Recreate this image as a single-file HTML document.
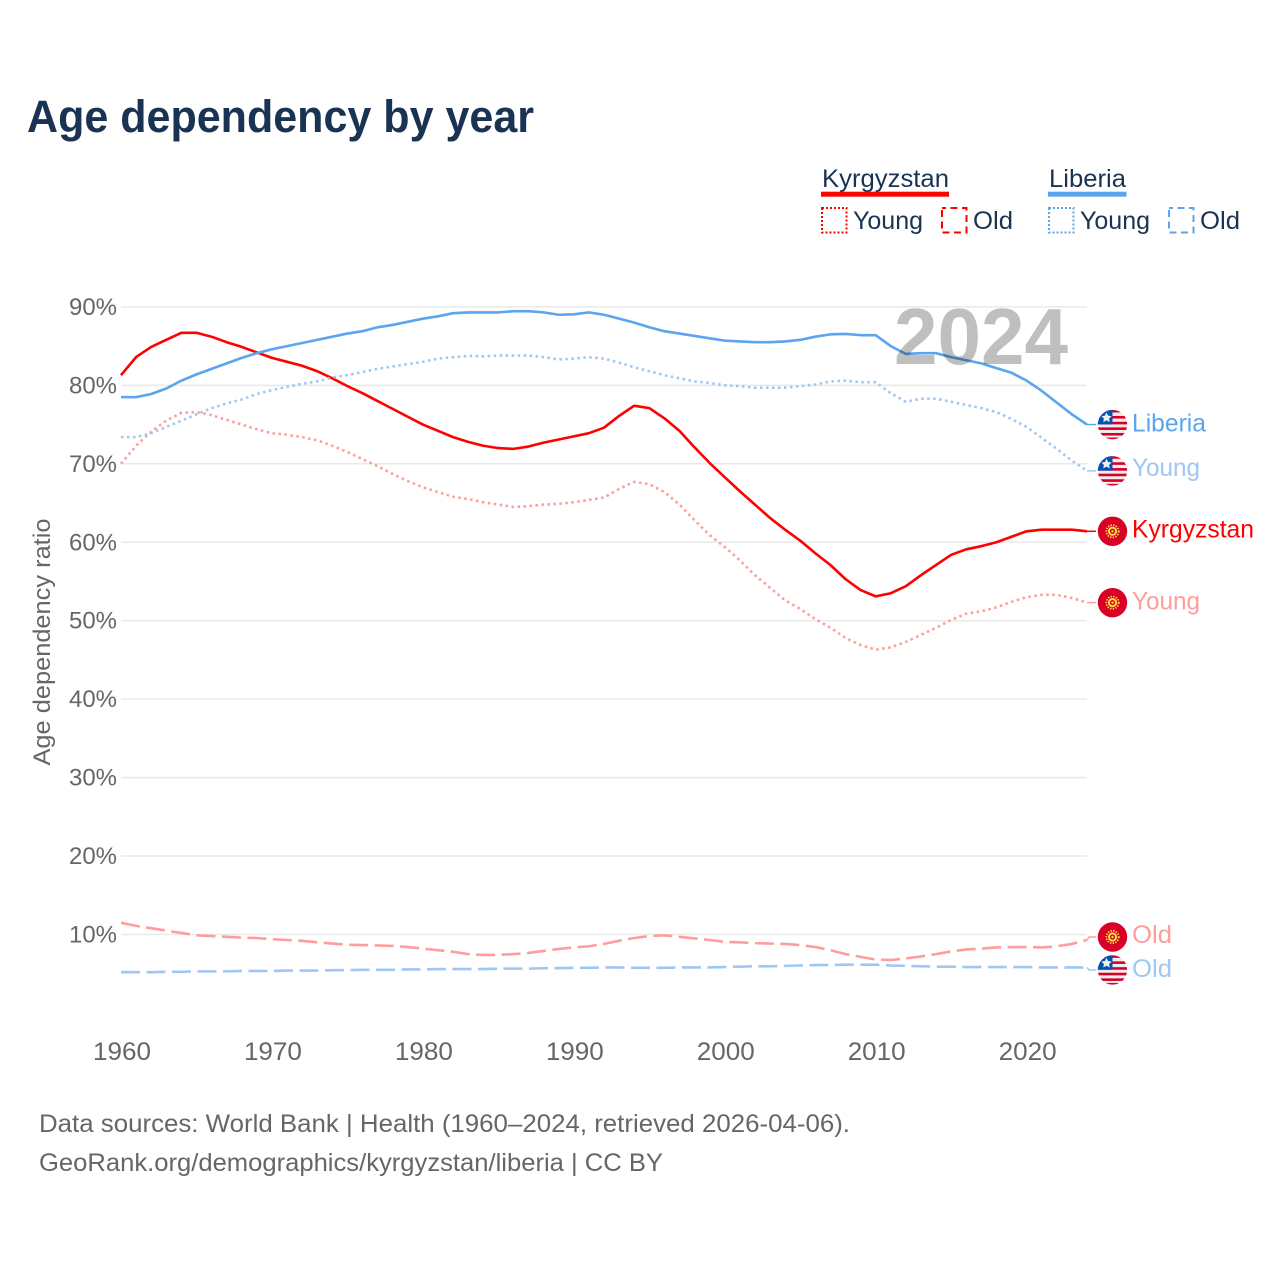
<!DOCTYPE html>
<html lang="en">
<head>
<meta charset="utf-8">
<title>Age dependency by year</title>
<style>
html,body{margin:0;padding:0;background:#fff}
svg{display:block}
text{font-family:"Liberation Sans",sans-serif}
</style>
</head>
<body>
<svg id="chart" xmlns="http://www.w3.org/2000/svg" width="1280" height="1280" viewBox="0 0 1280 1280">
  <defs>
    <clipPath id="flag-clip"><circle cx="0" cy="0" r="14.7"/></clipPath>
    <symbol id="flag-liberia" overflow="visible" viewBox="-15 -15 30 30" width="30" height="30">
      <g clip-path="url(#flag-clip)">
        <rect x="-15" y="-15" width="30" height="30" fill="#eeeeee"/>
        <rect x="-15" y="-14.7" width="30" height="2.6" fill="#d80027"/>
        <rect x="-15" y="-8.6" width="30" height="2.6" fill="#d80027"/>
        <rect x="-15" y="-2.8" width="30" height="2.6" fill="#d80027"/>
        <rect x="-15" y="2.8" width="30" height="2.6" fill="#d80027"/>
        <rect x="-15" y="8.4" width="30" height="2.6" fill="#d80027"/>
        <rect x="-15" y="13" width="30" height="2" fill="#d80027"/>
        <rect x="-15" y="-15" width="15" height="14.8" fill="#0052b4"/>
        <polygon points="-6,-12.2 -4.4,-8.9 -0.9,-8.4 -3.4,-6 -2.8,-2.5 -6,-4.2 -9.2,-2.5 -8.6,-6 -11.1,-8.4 -7.6,-8.9" fill="#eeeeee"/>
      </g>
    </symbol>
    <symbol id="flag-kyrgyzstan" overflow="visible" viewBox="-15 -15 30 30" width="30" height="30">
      <circle cx="0" cy="0" r="14.7" fill="#d80027"/>
      <circle cx="0" cy="0" r="4.6" fill="#ffda44"/>
      <circle cx="0" cy="0" r="2.6" fill="#d80027"/>
      <circle cx="0" cy="0" r="1.2" fill="#ffda44"/>
      <circle cx="0" cy="0" r="6.2" fill="none" stroke="#ffda44" stroke-width="1.8" stroke-dasharray="1.4 1.3"/>
    </symbol>
  </defs>

  <text x="27" y="132" font-size="45" font-weight="700" fill="#1a3353" textLength="507" lengthAdjust="spacingAndGlyphs">Age dependency by year</text>

  <g font-size="25" fill="#1a3353">
    <text x="822" y="187" textLength="127" lengthAdjust="spacingAndGlyphs">Kyrgyzstan</text>
    <rect x="821" y="191.7" width="128" height="5" fill="#ff0000"/>
    <rect x="822" y="208" width="24.5" height="24.5" fill="none" stroke="#ff0000" stroke-width="2" stroke-dasharray="2 2"/>
    <text x="853" y="229" textLength="70" lengthAdjust="spacingAndGlyphs">Young</text>
    <rect x="942" y="208" width="24.5" height="24.5" fill="none" stroke="#ff0000" stroke-width="2" stroke-dasharray="7 4.5" stroke-dashoffset="3"/>
    <text x="973" y="229" textLength="40" lengthAdjust="spacingAndGlyphs">Old</text>
    <text x="1049" y="187" textLength="77" lengthAdjust="spacingAndGlyphs">Liberia</text>
    <rect x="1048" y="191.7" width="78.5" height="5" fill="#5ba4ee"/>
    <rect x="1049" y="208" width="24.5" height="24.5" fill="none" stroke="#5ba4ee" stroke-width="2" stroke-dasharray="2 2"/>
    <text x="1080" y="229" textLength="70" lengthAdjust="spacingAndGlyphs">Young</text>
    <rect x="1169" y="208" width="24.5" height="24.5" fill="none" stroke="#5ba4ee" stroke-width="2" stroke-dasharray="7 4.5" stroke-dashoffset="3"/>
    <text x="1200" y="229" textLength="40" lengthAdjust="spacingAndGlyphs">Old</text>
  </g>

  <g id="grid"></g>
  <g id="y-ticks"></g>
  <g id="x-ticks"></g>
  <text transform="translate(50,642) rotate(-90)" text-anchor="middle" font-size="24.5" fill="#666666" textLength="247" lengthAdjust="spacingAndGlyphs">Age dependency ratio</text>

  <g id="series"></g>
  <g id="end-labels"></g>

  <text x="894" y="364" font-size="80" font-weight="700" fill="#000000" fill-opacity="0.25" textLength="174" lengthAdjust="spacingAndGlyphs">2024</text>

  <g font-size="25" fill="#666666">
    <text x="39" y="1132" textLength="811" lengthAdjust="spacingAndGlyphs">Data sources: World Bank | Health (1960–2024, retrieved 2026-04-06).</text>
    <text x="39" y="1171" textLength="624" lengthAdjust="spacingAndGlyphs">GeoRank.org/demographics/kyrgyzstan/liberia | CC BY</text>
  </g>
</svg>
<script>
const firstYear = 1960;
const lastYear = 2024;
const yTickValues = [10, 20, 30, 40, 50, 60, 70, 80, 90];
const xTickValues = [1960, 1970, 1980, 1990, 2000, 2010, 2020];

const kyrgyzstanTotal = [81.3,83.6,84.9,85.8,86.7,86.7,86.2,85.5,84.9,84.2,83.5,83.0,82.5,81.8,80.9,79.9,79.0,78.0,77.0,76.0,75.0,74.2,73.4,72.8,72.3,72.0,71.9,72.2,72.7,73.1,73.5,73.9,74.6,76.1,77.4,77.1,75.8,74.2,72.1,70.1,68.3,66.5,64.8,63.1,61.6,60.2,58.6,57.1,55.3,53.9,53.1,53.5,54.4,55.8,57.1,58.4,59.1,59.5,60.0,60.7,61.4,61.6,61.6,61.6,61.4];
const kyrgyzstanYoung = [70.0,72.3,74.1,75.5,76.5,76.6,76.2,75.6,75.0,74.4,73.9,73.7,73.4,73.0,72.3,71.5,70.6,69.7,68.7,67.8,67.0,66.4,65.8,65.5,65.1,64.8,64.5,64.6,64.8,64.9,65.1,65.4,65.7,66.8,67.7,67.4,66.4,64.8,62.8,60.9,59.4,57.7,55.8,54.2,52.6,51.5,50.2,49.1,47.8,46.9,46.3,46.6,47.3,48.2,49.1,50.1,50.9,51.2,51.7,52.4,53.0,53.3,53.3,52.9,52.3];
const kyrgyzstanOld = [11.5,11.1,10.8,10.5,10.2,9.9,9.8,9.7,9.6,9.55,9.4,9.3,9.2,9.0,8.85,8.7,8.65,8.6,8.55,8.4,8.2,8.0,7.8,7.5,7.4,7.4,7.5,7.65,7.9,8.15,8.35,8.5,8.8,9.2,9.55,9.8,9.9,9.7,9.5,9.3,9.05,9.0,8.9,8.85,8.8,8.65,8.4,8.0,7.5,7.15,6.8,6.75,6.95,7.2,7.5,7.85,8.1,8.2,8.35,8.4,8.4,8.35,8.5,8.8,9.3];
const liberiaTotal = [78.5,78.5,78.9,79.6,80.6,81.4,82.1,82.8,83.5,84.1,84.6,85.0,85.4,85.8,86.2,86.6,86.9,87.4,87.7,88.1,88.5,88.8,89.2,89.3,89.3,89.3,89.45,89.45,89.3,89.0,89.05,89.3,89.0,88.5,88.0,87.4,86.9,86.6,86.3,86.0,85.7,85.6,85.5,85.5,85.6,85.8,86.2,86.5,86.55,86.4,86.4,85.0,84.0,84.1,84.1,83.6,83.2,82.8,82.2,81.6,80.6,79.3,77.8,76.3,75.0];
const liberiaYoung = [73.4,73.4,73.9,74.7,75.5,76.3,77.1,77.7,78.2,78.9,79.4,79.8,80.2,80.5,81.0,81.3,81.7,82.1,82.4,82.7,83.0,83.4,83.6,83.75,83.7,83.8,83.8,83.8,83.6,83.3,83.4,83.6,83.4,82.9,82.3,81.8,81.3,80.9,80.5,80.3,80.0,79.9,79.7,79.7,79.7,79.9,80.1,80.5,80.6,80.4,80.4,79.0,77.9,78.3,78.3,77.9,77.5,77.1,76.6,75.7,74.7,73.3,71.9,70.4,69.1];
const liberiaOld = [5.2,5.2,5.2,5.25,5.25,5.3,5.3,5.3,5.35,5.35,5.35,5.4,5.4,5.4,5.45,5.45,5.5,5.5,5.5,5.55,5.55,5.6,5.6,5.6,5.6,5.65,5.65,5.65,5.7,5.7,5.75,5.75,5.8,5.8,5.75,5.75,5.75,5.8,5.8,5.8,5.85,5.9,5.95,5.95,6.0,6.05,6.1,6.1,6.15,6.15,6.15,6.05,6.0,5.95,5.9,5.9,5.85,5.85,5.85,5.85,5.85,5.8,5.8,5.8,5.8];

const NS = 'http://www.w3.org/2000/svg';
const plotLeft = 121;
const plotRight = 1087;
const y10 = 934.5;
const pxPerUnit = 7.845;
function xScale(year) { return plotLeft + (year - firstYear) * (plotRight - plotLeft) / (lastYear - firstYear); }
function yScale(value) { return y10 - (value - 10) * pxPerUnit; }
function make(tag, attrs, parent) {
  const el = document.createElementNS(NS, tag);
  for (const k in attrs) el.setAttribute(k, attrs[k]);
  parent.appendChild(el);
  return el;
}

const gridGroup = document.getElementById('grid');
const yTickGroup = document.getElementById('y-ticks');
yTickValues.forEach(function (v) {
  const line = make('line', { x1: plotLeft, x2: plotRight, y1: yScale(v), y2: yScale(v), stroke: '#e9e9e9', 'stroke-width': 1.5 }, gridGroup);
  
  
  const t = make('text', { x: 117, y: yScale(v) + 8, 'text-anchor': 'end', 'font-size': 24.5, fill: '#666666', textLength: 48, lengthAdjust: 'spacingAndGlyphs' }, yTickGroup);
  t.textContent = v + '%';
  
  
});

const xTickGroup = document.getElementById('x-ticks');
xTickValues.forEach(function (yr) {
  const t = make('text', { x: xScale(yr) + 1, y: 1060, 'text-anchor': 'middle', 'font-size': 25, fill: '#666666', textLength: 58, lengthAdjust: 'spacingAndGlyphs' }, xTickGroup);
  t.textContent = yr;
  
  
});

const DOT = '2.5 3.5';
const DASH = '19 6.5';
const RED = '#ff0000';
const RED_LIGHT = '#ff9d9d';
const BLUE = '#5ba4ee';
const BLUE_LIGHT = '#9fc7f3';

const seriesList = [
  { id: 'kyrgyzstan-old', values: kyrgyzstanOld, color: RED_LIGHT, dash: DASH, label: 'Old', flag: 'flag-kyrgyzstan', dy: -3, textDy: 6, len: 40 },
  { id: 'kyrgyzstan-young', values: kyrgyzstanYoung, color: RED_LIGHT, dash: DOT, label: 'Young', flag: 'flag-kyrgyzstan', dy: 0, textDy: 7, len: 68 },
  { id: 'kyrgyzstan-total', values: kyrgyzstanTotal, color: RED, dash: null, label: 'Kyrgyzstan', flag: 'flag-kyrgyzstan', dy: 0, textDy: 6, len: 122 },
  { id: 'liberia-old', values: liberiaOld, color: BLUE_LIGHT, dash: DASH, label: 'Old', flag: 'flag-liberia', dy: 2.5, textDy: 7, len: 40 },
  { id: 'liberia-young', values: liberiaYoung, color: BLUE_LIGHT, dash: DOT, label: 'Young', flag: 'flag-liberia', dy: 0, textDy: 5, len: 68 },
  { id: 'liberia-total', values: liberiaTotal, color: BLUE, dash: null, label: 'Liberia', flag: 'flag-liberia', dy: 0, textDy: 7, len: 74 }
];

const seriesGroup = document.getElementById('series');
const labelGroup = document.getElementById('end-labels');
seriesList.forEach(function (s) {
  const pts = s.values.map(function (v, i) { return xScale(firstYear + i).toFixed(2) + ',' + yScale(v).toFixed(2); }).join(' ');
  const attrs = { points: pts, fill: 'none', stroke: s.color, 'stroke-width': 2.6, 'stroke-linejoin': 'round' };
  if (s.dash) attrs['stroke-dasharray'] = s.dash;
  const line = make('polyline', attrs, seriesGroup);
  
  

  const endValue = s.values[s.values.length - 1];
  const endY = yScale(endValue);
  const labelY = endY + s.dy;
  const conn = make('polyline', { points: plotRight + ',' + endY + ' ' + (plotRight + 2) + ',' + labelY + ' ' + (plotRight + 9) + ',' + labelY, fill: 'none', stroke: s.color, 'stroke-width': 1.5 }, labelGroup);
  
  

  const flag = make('use', { href: '#' + s.flag, x: 1112.5 - 15, y: labelY - 15, width: 30, height: 30 }, labelGroup);
  
  

  const t = make('text', { x: 1132, y: labelY + s.textDy, 'font-size': 25, fill: s.color, textLength: s.len, lengthAdjust: 'spacingAndGlyphs' }, labelGroup);
  t.textContent = s.label;
  
  
});
</script>
</body>
</html>
